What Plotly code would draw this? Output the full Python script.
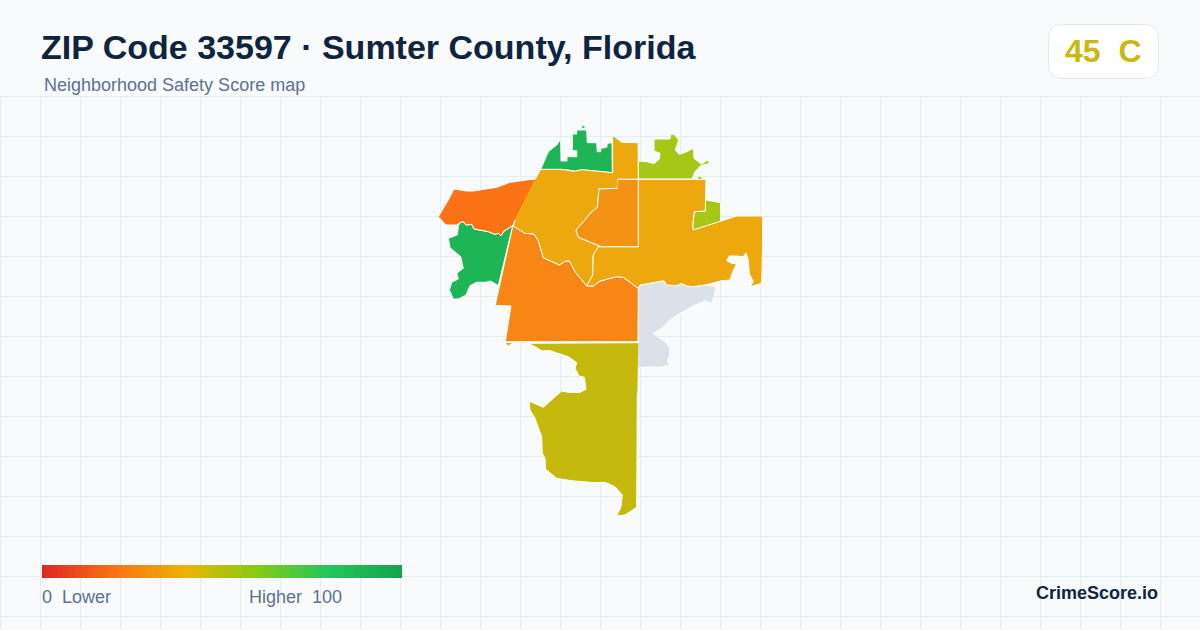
import plotly.graph_objects as go

W = 1200
H = 630

# zones of the ZIP, outline, score colour
north_green_x = [540.7, 548.3, 556.7, 560.7, 561, 567, 567, 576.7, 576.7, 572.3, 572.3, 576.7, 576.7, 586.7, 587.3, 596.7, 597.3, 600.7, 600.7, 606.7, 607.3, 612, 612.3, 600, 590, 581.7, 575, 568.3, 560]
north_green_y = [169.3, 151.7, 145, 139.3, 161, 161, 156.7, 156.7, 150.7, 150.7, 134, 134, 130, 130, 142.7, 142.7, 151.7, 151.7, 148.3, 147.3, 143.3, 142.7, 172.7, 171.7, 170.7, 169.7, 171.3, 170, 169.3]
north_dot_x = [582.3, 586.7, 582.3]
north_dot_y = [125, 127.3, 128.7]

amber_west_x = [535.7, 540.7, 560, 568.3, 575, 581.7, 590, 600, 612.7, 612.7, 616.7, 621.7, 638, 638.3, 617.7, 617.3, 599, 597.3, 590, 585, 576, 578.3, 601.7, 598.3, 593.3, 592.7, 586.7, 575, 569.3, 565, 559.3, 543.3, 538.3, 534, 525, 513.3, 515]
amber_west_y = [178.3, 169.3, 169.3, 170, 171.3, 169.7, 170.7, 171.7, 172.7, 135.3, 138.3, 142.3, 142.7, 179.3, 179.3, 188.3, 189, 207.3, 213.3, 220, 230, 237.3, 246.7, 246.7, 255, 275, 286, 271.7, 260.7, 261.3, 265, 257.7, 240.7, 234, 233.3, 226, 220]

inner_orange_x = [617.7, 638.3, 638.3, 601.7, 578.3, 576, 585, 590, 597.3, 599, 617.3]
inner_orange_y = [179.3, 179.3, 246.7, 246.7, 237.3, 230, 220, 213.3, 207.3, 189, 188.3]

amber_east_x = [638.3, 706, 705.3, 694.3, 692.7, 693.3, 736.7, 762.7, 762.7, 761.7, 750, 753.3, 749.3, 748.3, 746, 743.3, 736.7, 729.3, 726.7, 731.7, 736.7, 732.7, 730, 721.7, 714, 705, 693.3, 686.7, 681.7, 676.7, 666.7, 664, 658.3, 650, 640, 638.3, 623.3, 616.7, 600, 593.3, 586.7, 592.7, 593.3, 598.3, 638.3]
amber_east_y = [179.3, 179.3, 211, 211.7, 225, 230, 216, 216, 240, 283.3, 286.7, 281.7, 273.3, 260, 252.7, 256.7, 256, 256, 260.7, 263.3, 264, 271.7, 280, 280.7, 282.7, 285, 286.7, 286, 283.3, 285.7, 285, 280.7, 281.7, 283.3, 285, 288.3, 277.3, 276.7, 281, 286, 286, 275, 255, 246.7, 246.7]

south_orange_x = [513.3, 525, 534, 538.3, 543.3, 559.3, 565, 569.3, 575, 586.7, 593.3, 600, 616.7, 623.3, 638.3, 638, 505.3, 511, 495.7]
south_orange_y = [226, 233.3, 234, 240.7, 257.7, 265, 261.3, 260.7, 271.7, 286, 286, 281, 276.7, 277.3, 288.3, 341.7, 341.7, 306, 305.5]

west_orange_x = [535.7, 530, 510, 496.7, 473.3, 466.7, 454, 448.3, 438.3, 446, 456.7, 460.7, 463.3, 466, 471.7, 474, 480, 488.3, 495, 498.3, 501, 504, 512.7, 515]
west_orange_y = [179.3, 179.5, 182.3, 187.3, 191, 191, 189, 200, 216.7, 225, 225, 222.3, 221.7, 225, 224.3, 229, 230, 231.7, 234.3, 233.3, 236, 231, 225.7, 220]

west_green_x = [460.7, 463.3, 466, 471.7, 474, 480, 488.3, 495, 498.3, 501, 504, 512.7, 498.3, 490.7, 486, 476.7, 470, 466, 458.3, 453.3, 449.3, 451.7, 458.3, 456.7, 463.3, 460.7, 455, 450, 448.3, 457.3, 458.3]
west_green_y = [222.3, 221.7, 225, 224.3, 229, 230, 231.7, 234.3, 233.3, 236, 231, 225.7, 285.7, 281, 282.3, 282.3, 285.7, 295, 299, 299, 290, 282.3, 279, 273.3, 268.3, 256.7, 252.3, 247.7, 238.3, 235, 226.7]

lime_north_x = [638.7, 646.7, 654, 659.3, 660, 654, 654, 670, 670.7, 674, 678.7, 675.3, 679.3, 686.7, 693.3, 694, 701.7, 707.3, 710, 700.7, 695, 692, 638.7]
lime_north_y = [161, 161.7, 163.7, 159, 153.3, 151, 139, 139, 134.3, 134.3, 140, 150, 154.3, 151.7, 148.3, 158.3, 164.3, 160, 163.3, 165.7, 171.7, 179, 179]
lime_dot_x = [696.7, 699.3, 704]
lime_dot_y = [179, 175.7, 179]
lime_east_x = [706, 720.7, 720.7, 693.3, 692.7, 694.3, 705.3]
lime_east_y = [200, 202.7, 221.7, 230, 225, 211.7, 211]

nodata_x = [638.3, 640, 650, 658.3, 664, 666.7, 676.7, 681.7, 686.7, 693.3, 705, 716, 714, 711.7, 705, 695, 680, 670, 661.7, 653.3, 660, 666.7, 670, 669.3, 667.3, 669.3, 660, 653.3, 638.3]
nodata_y = [288.3, 285, 283.3, 281.7, 280.7, 285, 285.7, 283.3, 286, 286.7, 285, 286.7, 296.7, 303.3, 301, 305, 313.3, 320, 328.3, 333.3, 338.3, 343.3, 348.3, 356.7, 360, 365, 367.3, 366.7, 367.7]

olive_x = [638.3, 528.3, 535, 541.7, 550, 560, 568.3, 576.7, 575, 579, 584.3, 586, 580, 568.3, 561.7, 543.3, 529, 530, 535, 541.7, 542.3, 545, 545.7, 556.7, 571.7, 595, 605, 615, 622.3, 621, 616.7, 625, 636.7, 637.3]
olive_y = [342.7, 343.3, 346.7, 350.7, 350.7, 354, 356.7, 362.7, 368.3, 376, 377.3, 389.3, 392.3, 392.3, 391, 407.3, 401, 410, 418.3, 436.7, 453.3, 458.3, 469.3, 478.3, 480.7, 482.7, 482.3, 486.7, 495, 506.7, 516, 515, 507.3, 393.3]
olive_dot_x = [505.3, 513.3, 508.3]
olive_dot_y = [342, 343, 346]

green = "#1db555"
amber = "#eca80c"
zones = [
    (nodata_x, nodata_y, "#dae1e8"),
    (north_green_x, north_green_y, green),
    (north_dot_x, north_dot_y, green),
    (lime_north_x, lime_north_y, "#a6c716"),
    (lime_dot_x, lime_dot_y, "#a6c716"),
    (lime_east_x, lime_east_y, "#a6c716"),
    (west_green_x, west_green_y, green),
    (west_orange_x, west_orange_y, "#fb7315"),
    (olive_x, olive_y, "#c5b90e"),
    (olive_dot_x, olive_dot_y, "#c5b90e"),
    (south_orange_x, south_orange_y, "#f78614"),
    (amber_west_x, amber_west_y, amber),
    (amber_east_x, amber_east_y, amber),
    (inner_orange_x, inner_orange_y, "#f49213"),
]

legend_scores = list(range(0, 101))
legend_colors = [
    [0, "#dc2626"],
    [0.2, "#f97316"],
    [0.4, "#eab308"],
    [0.6, "#84cc16"],
    [0.8, "#22c55e"],
    [1, "#16a34a"],
]

GRID = "#e3edf2"

fig = go.Figure()

for zx, zy, col in zones:
    fig.add_trace(go.Scatter(x=zx, y=zy, mode="lines", fill="toself", fillcolor=col,
                             line=dict(color="#ffffff", width=1), hoverinfo="skip",
                             showlegend=False, xaxis="x", yaxis="y"))

fig.add_trace(go.Heatmap(z=[legend_scores], x=legend_scores, colorscale=legend_colors,
                         zmin=0, zmax=100, showscale=False, hoverinfo="skip",
                         xaxis="x2", yaxis="y2"))


def px(x):
    return x / W


def py(y):
    return 1 - y / H


def label(x, y, text, size, color, bold=False, anchor="left"):
    fig.add_annotation(xref="paper", yref="paper", x=px(x), y=py(y), text=text, showarrow=False,
                       xanchor=anchor, yanchor="middle", borderpad=0,
                       font=dict(family="Liberation Sans", size=size, color=color,
                                 weight="bold" if bold else "normal"))


label(40, 47, "ZIP Code 33597 · Sumter County, Florida", 34, "#10243e", bold=True)
label(43, 85, "Neighborhood Safety Score map", 18, "#5b7290")
label(41, 597, "0  Lower", 18, "#5b7290")
label(248, 597, "Higher  100", 18, "#5b7290")
label(1159, 593, "CrimeScore.io", 18, "#10243e", bold=True, anchor="right")
label(1102.5, 51, "45  C", 32, "#c9b80f", bold=True, anchor="center")

# score badge, rounded box top right
x0, x1, y0, y1, r = 1048.5, 1158.5, 24.5, 78.5, 14
badge = (f"M {px(x0 + r)},{py(y0)} L {px(x1 - r)},{py(y0)} Q {px(x1)},{py(y0)} {px(x1)},{py(y0 + r)} "
         f"L {px(x1)},{py(y1 - r)} Q {px(x1)},{py(y1)} {px(x1 - r)},{py(y1)} "
         f"L {px(x0 + r)},{py(y1)} Q {px(x0)},{py(y1)} {px(x0)},{py(y1 - r)} "
         f"L {px(x0)},{py(y0 + r)} Q {px(x0)},{py(y0)} {px(x0 + r)},{py(y0)} Z")
fig.add_shape(type="path", path=badge, xref="paper", yref="paper", fillcolor="#ffffff",
              line=dict(color="#e2e8f0", width=1), layer="below")

# plotly drops gridlines right on the plot edge, so the first two go in by hand
fig.add_shape(type="line", xref="paper", yref="paper", x0=0, x1=1, y0=py(96.5), y1=py(96.5),
              line=dict(color=GRID, width=1), layer="below")
fig.add_shape(type="line", xref="paper", yref="paper", x0=px(0.5), x1=px(0.5), y0=0, y1=py(96.5),
              line=dict(color=GRID, width=1), layer="below")

fig.update_layout(
    width=W,
    height=H,
    margin=dict(l=0, r=0, t=0, b=0),
    paper_bgcolor="#f8fafc",
    plot_bgcolor="rgba(0,0,0,0)",
    xaxis=dict(range=[0, W], domain=[0, 1], tick0=0.5, dtick=40, showgrid=True, gridcolor=GRID,
               gridwidth=1, zeroline=False, showticklabels=False, ticks=""),
    yaxis=dict(range=[H, 96], domain=[0, 534 / H], tick0=96.5, dtick=40, showgrid=True, gridcolor=GRID,
               gridwidth=1, zeroline=False, showticklabels=False, ticks=""),
    xaxis2=dict(domain=[42 / W, 402 / W], range=[0, 100], visible=False, anchor="y2"),
    yaxis2=dict(domain=[1 - 578 / H, 1 - 565 / H], visible=False, anchor="x2"),
)

fig.write_html("out.html", config={"displayModeBar": False}, post_script="document.body.style.margin='0';")
